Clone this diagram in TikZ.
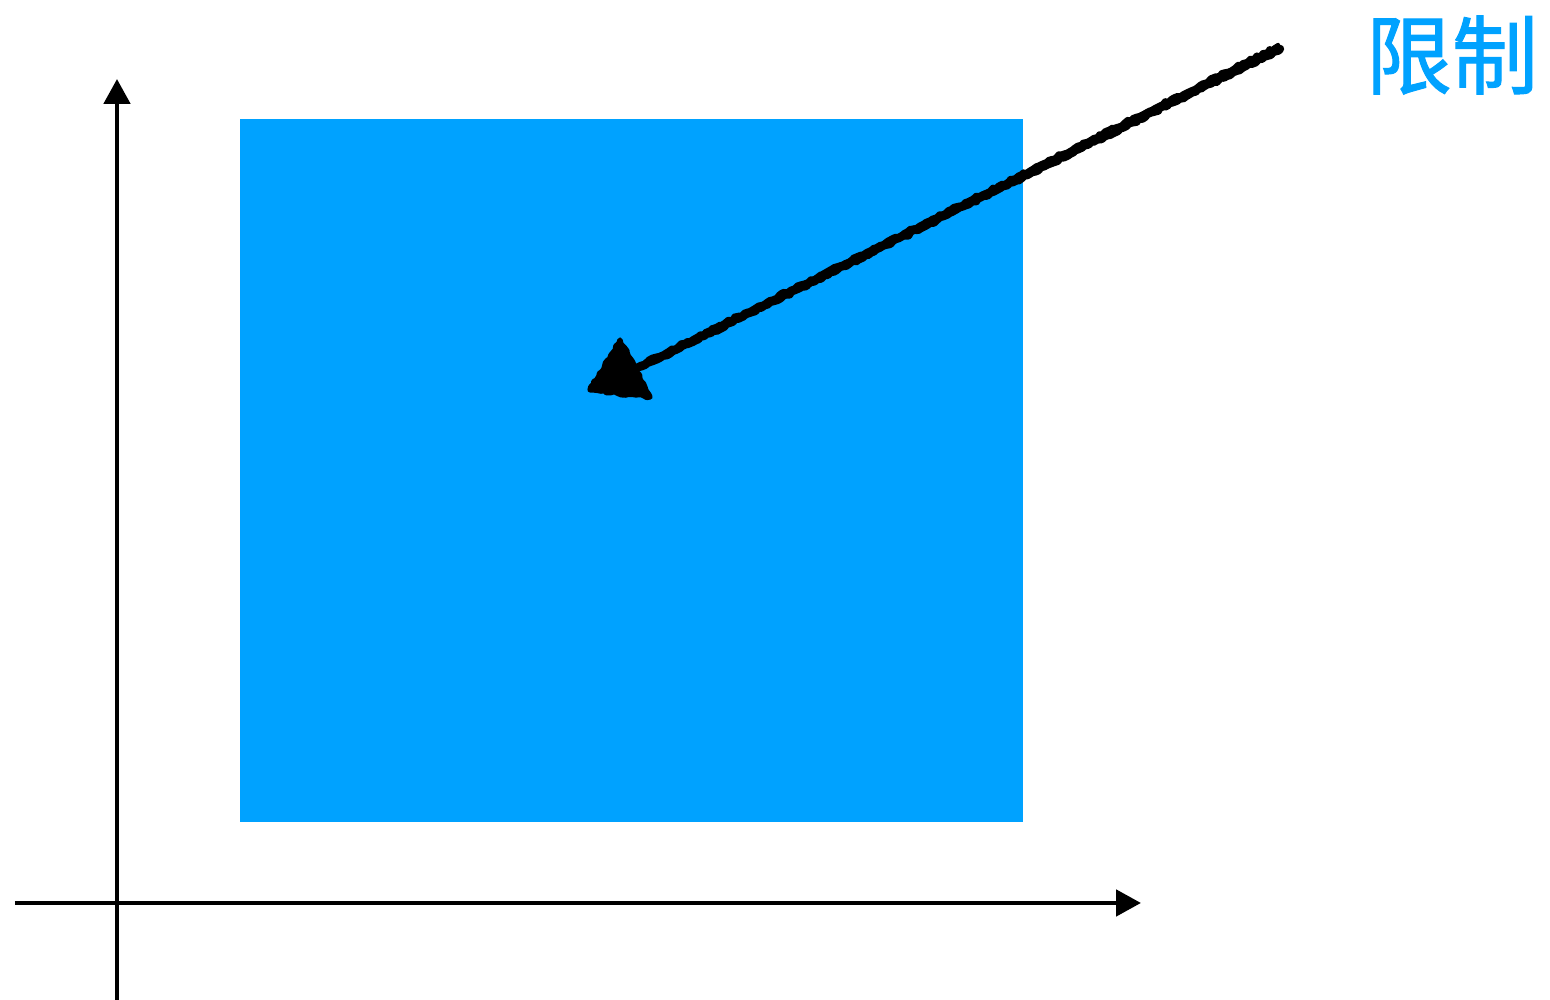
\documentclass[tikz,border=0pt]{standalone}
\usepackage{fontspec}
\newfontfamily\cjk[FakeBold=1.2]{Noto Sans CJK SC}
\usetikzlibrary{arrows.meta,decorations.pathmorphing}
\definecolor{limitblue}{HTML}{00A2FF}
\tikzset{
  axis/.style={line width=1.4pt,-{Triangle[width=0.26cm,length=0.25cm]}},
  rough/.style={line width=2.4pt,line join=round,line cap=round,decorate,decoration={random steps,segment length=1pt,amplitude=0.35pt}}
}
\begin{document}
\begin{tikzpicture}
\useasboundingbox (0,0) rectangle (15.5,10);
\fill[limitblue] (2.40,1.78) rectangle (10.23,8.81);
\draw[axis] (0.15,0.97) -- (11.41,0.97);
\draw[axis] (1.17,0) -- (1.17,9.21);
\node[text=limitblue,font=\cjk\fontsize{24.5}{29}\selectfont] (limit) at (14.52,9.45) {限制};
\coordinate (from) at (12.80,9.51);
\coordinate (to) at (6.35,6.30);
\draw[rough] (from) -- (to);
\draw[rough,line width=1.2pt] (12.78,9.55) -- (6.40,6.36);
\fill (6.20,6.60) -- (5.90,6.10) -- (6.50,6.03) -- cycle;
\draw[rough,line width=1.5pt] (6.20,6.60) -- (5.90,6.10) -- (6.50,6.03) -- cycle;
\end{tikzpicture}
\end{document}
